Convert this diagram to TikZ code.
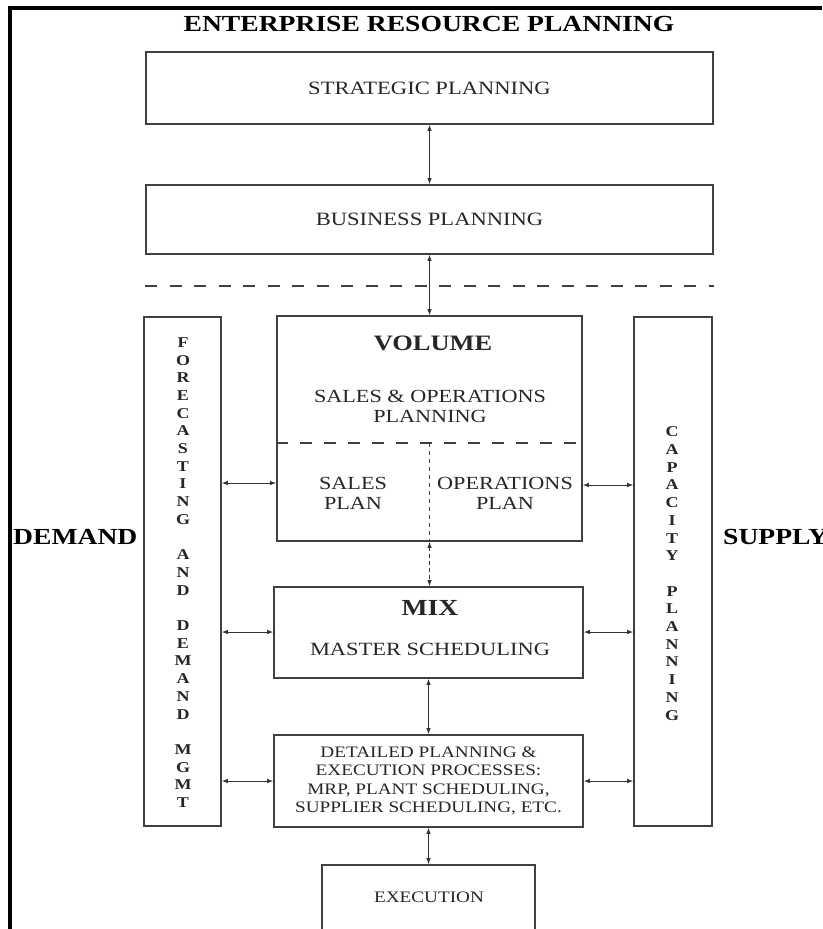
\documentclass[tikz,border=0pt]{standalone}
\usepackage{fontspec}
\setmainfont{Liberation Serif}[FakeStretch=1.2]
\usetikzlibrary{arrows.meta}
\begin{document}
\begin{tikzpicture}[x=1pt,y=-1pt,
  box/.style={draw=black!75, line width=1.6pt, rectangle, inner sep=0pt, text=black!85},
  arr/.style={line width=0.9pt, draw=black!80, {Latex[length=6pt,width=4.5pt]}-{Latex[length=6pt,width=4.5pt]}},
  sep/.style={line width=1.8pt, draw=black!75, dash pattern=on 12pt off 12.5pt},
  lbl/.style={inner sep=0pt, text=black!85, align=center},
  big/.style={lbl, font=\bfseries\fontsize{22}{24}\selectfont},
  mid/.style={lbl, font=\fontsize{18.8}{20}\selectfont},
  small/.style={lbl, font=\fontsize{16}{18.3}\selectfont},
  vtext/.style={lbl, font=\bfseries\fontsize{15}{17.7}\selectfont}
]
\clip (0,0) rectangle (822,929);
\fill[white] (0,0) rectangle (822,929);

% heavy frame along the top and left edges
\fill[black] (8,6) rectangle (822,10);
\fill[black] (8,6) rectangle (12,929);

% title
\node[lbl, font=\bfseries\fontsize{23}{25}\selectfont, text=black] (title) at (429,24) {ENTERPRISE RESOURCE PLANNING};

% planning levels
\node[box, minimum width=567pt, minimum height=72pt, font=\fontsize{18.8}{20}\selectfont] (strat) at (429.5,88) {STRATEGIC PLANNING};
\node[box, minimum width=567pt, minimum height=69pt, font=\fontsize{18.8}{20}\selectfont] (bus) at (429.5,219.5) {BUSINESS PLANNING};

% separator between business and operational levels
\coordinate (sepy) at (0,286);
\draw[sep] (bus.west |- sepy) -- (bus.east |- sepy);

% side columns
\node[box, minimum width=77pt, minimum height=509pt] (fore) at (182.5,571.5) {};
\node[box, minimum width=78pt, minimum height=509pt] (cap) at (673,571.5) {};
\node[vtext] (foretext) at (183,572.5) {F\\O\\R\\E\\C\\A\\S\\T\\I\\N\\G\\[17.7pt]A\\N\\D\\[17.7pt]D\\E\\M\\A\\N\\D\\[17.7pt]M\\G\\M\\T};
\node[vtext] (captext) at (672,573.5) {C\\A\\P\\A\\C\\I\\T\\Y\\[17.7pt]P\\L\\A\\N\\N\\I\\N\\G};

% volume block
\node[box, minimum width=305pt, minimum height=225pt] (vol) at (429.5,428.5) {};
\node[big] (voltitle) at (433,343) {VOLUME};
\node[mid, font=\fontsize{18.5}{20}\selectfont] (sop) at (430,406) {SALES \& OPERATIONS\\PLANNING};
\coordinate (split) at (0,443);
\draw[black!75, line width=1.6pt, dash pattern=on 12pt off 12pt] (vol.west |- split) -- (vol.east |- split);
\coordinate (splitx) at (429,0);
\draw[black!75, line width=1pt, dash pattern=on 4pt off 4pt] (splitx |- split) -- (splitx |- vol.south);
\node[mid, font=\fontsize{18.5}{20}\selectfont] (sales) at (353,493) {SALES\\PLAN};
\node[mid, font=\fontsize{18.5}{20}\selectfont] (ops) at (505,493) {OPERATIONS\\PLAN};

% mix block
\node[box, minimum width=309pt, minimum height=91pt] (mix) at (428.5,632.5) {};
\node[big, font=\bfseries\fontsize{23}{25}\selectfont] (mixtitle) at (430,608) {MIX};
\node[mid, font=\fontsize{18.7}{20}\selectfont] (mps) at (430,649) {MASTER SCHEDULING};

% detailed planning block
\node[box, minimum width=309pt, minimum height=92pt, align=center, font=\fontsize{16}{18.3}\selectfont] (det) at (428.5,781)
  {DETAILED PLANNING \&\\EXECUTION PROCESSES:\\MRP, PLANT SCHEDULING,\\SUPPLIER SCHEDULING, ETC.};

% execution
\node[box, minimum width=213pt, minimum height=70pt] (exe) at (428.5,900) {};
\node[small] (exetext) at (429,897) {EXECUTION};

% demand and supply side labels
\node[lbl, anchor=west, font=\bfseries\fontsize{23}{25}\selectfont, text=black] (demand) at (13,537) {DEMAND};
\node[lbl, anchor=west, font=\bfseries\fontsize{23}{25}\selectfont, text=black] (supply) at (723,537) {SUPPLY};

% vertical links
\draw[arr] (strat.south) -- (bus.north);
\draw[arr] (bus.south) -- (vol.north);
\draw[arr, dash pattern=on 4pt off 3pt] (vol.south) -- (vol.south |- mix.north);
\draw[arr] (mix.south) -- (det.north);
\draw[arr] (det.south) -- (exe.north);

% horizontal links
\coordinate (h1) at (0,483);
\coordinate (h1r) at (0,485);
\coordinate (h2) at (0,632);
\coordinate (h3) at (0,781);
\draw[arr] (fore.east |- h1) -- (vol.west |- h1);
\draw[arr] (vol.east |- h1r) -- (cap.west |- h1r);
\draw[arr] (fore.east |- h2) -- (mix.west |- h2);
\draw[arr] (mix.east |- h2) -- (cap.west |- h2);
\draw[arr] (fore.east |- h3) -- (det.west |- h3);
\draw[arr] (det.east |- h3) -- (cap.west |- h3);
\end{tikzpicture}
\end{document}
